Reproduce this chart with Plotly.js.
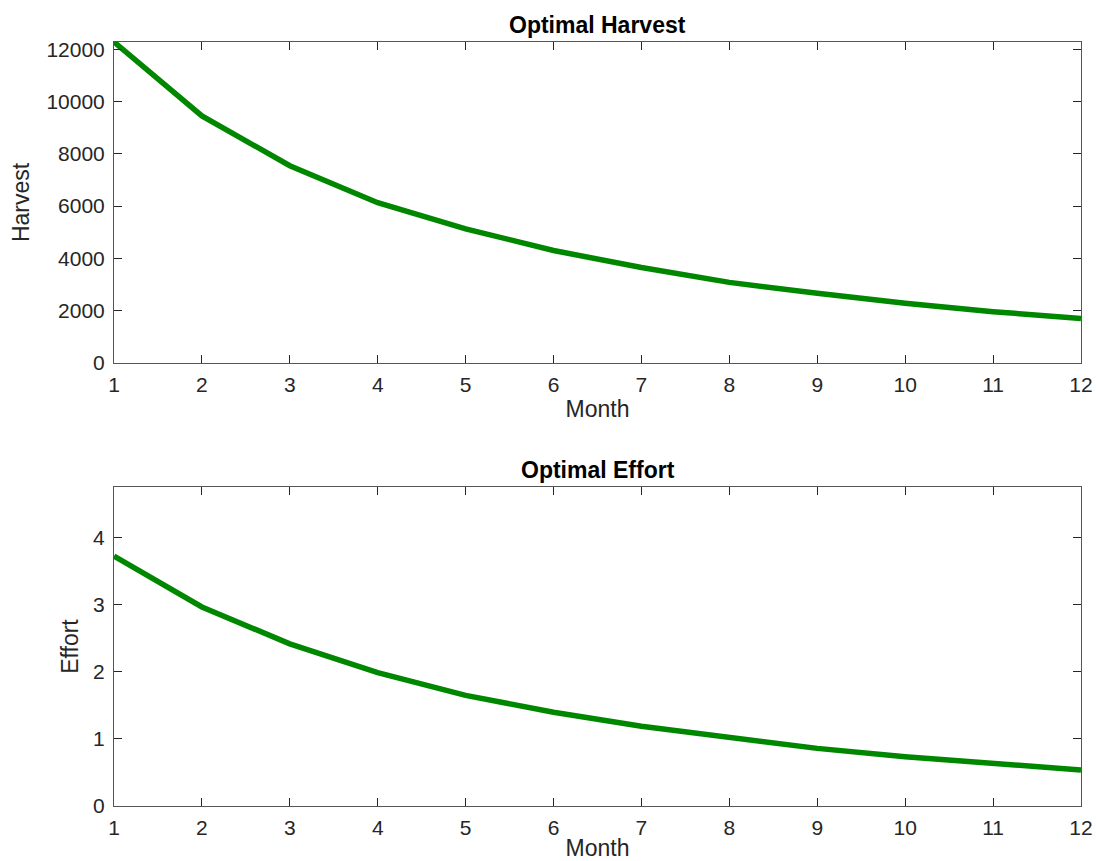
<!DOCTYPE html>
<html>
<head>
<meta charset="utf-8">
<script src="https://cdn.plot.ly/plotly-3.0.1.min.js"></script>
<style>
  html, body { margin: 0; padding: 0; background: #fff; }
  #plot { width: 1096px; height: 861px; }
</style>
</head>
<body>
<div id="plot"></div>
<script>
// values
const months = [1, 2, 3, 4, 5, 6, 7, 8, 9, 10, 11, 12];
const harvest = [12280, 9450, 7545, 6130, 5130, 4300, 3650, 3080, 2665, 2280, 1960, 1700];
const effort = [3.73, 2.97, 2.42, 1.99, 1.65, 1.40, 1.19, 1.02, 0.86, 0.735, 0.628, 0.537];

const harvestTicks = [0, 2000, 4000, 6000, 8000, 10000, 12000];
const harvestLabels = ['0', '2000', '4000', '6000', '8000', '10000', '12000'];
const effortTicks = [0, 1, 2, 3, 4];
const effortLabels = ['0', '1', '2', '3', '4'];

const green = 'rgb(0,135,0)';
const txt = '#262626';
const fnt = 'Liberation Sans, Arial, Helvetica, sans-serif';

function xAxis(anchor) {
  return {
    anchor: anchor,
    range: [1, 12],
    tickvals: months,
    ticks: 'inside',
    ticklen: 8,
    tickcolor: txt,
    tickwidth: 1,
    ticklabelstandoff: 3,
    showline: true,
    linecolor: '#555',
    linewidth: 1,
    mirror: 'ticks',
    showgrid: false,
    zeroline: false,
    tickfont: { family: fnt, size: 21, color: txt },
    title: { text: 'Month', font: { family: fnt, size: 23, color: txt }, standoff: 5 }
  }
}

function yAxis(anchor, domain, range, ticks, labels, label, standoff) {
  return {
    anchor: anchor,
    domain: domain,
    range: range,
    tickvals: ticks,
    ticktext: labels,
    ticks: 'inside',
    ticklen: 8,
    tickcolor: txt,
    tickwidth: 1,
    ticklabelstandoff: 4,
    showline: true,
    linecolor: '#555',
    linewidth: 1,
    mirror: 'ticks',
    showgrid: false,
    zeroline: false,
    tickfont: { family: fnt, size: 21, color: txt },
    title: { text: label, font: { family: fnt, size: 23, color: txt }, standoff: standoff }
  }
}

const data = [
  {
    x: months, y: harvest, type: 'scatter', mode: 'lines',
    line: { color: green, width: 5.5 }, xaxis: 'x', yaxis: 'y', cliponaxis: false
  },
  {
    x: months, y: effort, type: 'scatter', mode: 'lines',
    line: { color: green, width: 5.5 }, xaxis: 'x2', yaxis: 'y2', cliponaxis: false
  }
];

const layout = {
  width: 1096,
  height: 861,
  paper_bgcolor: '#fff',
  plot_bgcolor: '#fff',
  showlegend: false,
  margin: { l: 114, r: 15, t: 42, b: 55 },
  xaxis: xAxis('y'),
  yaxis: yAxis('x', [0.58, 1], [0, 12280], harvestTicks, harvestLabels, 'Harvest', 10),
  xaxis2: xAxis('y2'),
  yaxis2: yAxis('x2', [0, 0.4175], [0, 4.76], effortTicks, effortLabels, 'Effort', 8),
  annotations: [
    {
      text: '<b>Optimal Harvest</b>', xref: 'paper', yref: 'paper',
      x: 0.5, y: 1, yanchor: 'bottom', yshift: 2, showarrow: false,
      font: { family: fnt, size: 23, color: '#000' }
    },
    {
      text: '<b>Optimal Effort</b>', xref: 'paper', yref: 'paper',
      x: 0.5, y: 0.4175, yanchor: 'bottom', yshift: 2, showarrow: false,
      font: { family: fnt, size: 23, color: '#000' }
    }
  ]
};

Plotly.newPlot('plot', data, layout, { displayModeBar: false, staticPlot: true });
</script>
</body>
</html>
